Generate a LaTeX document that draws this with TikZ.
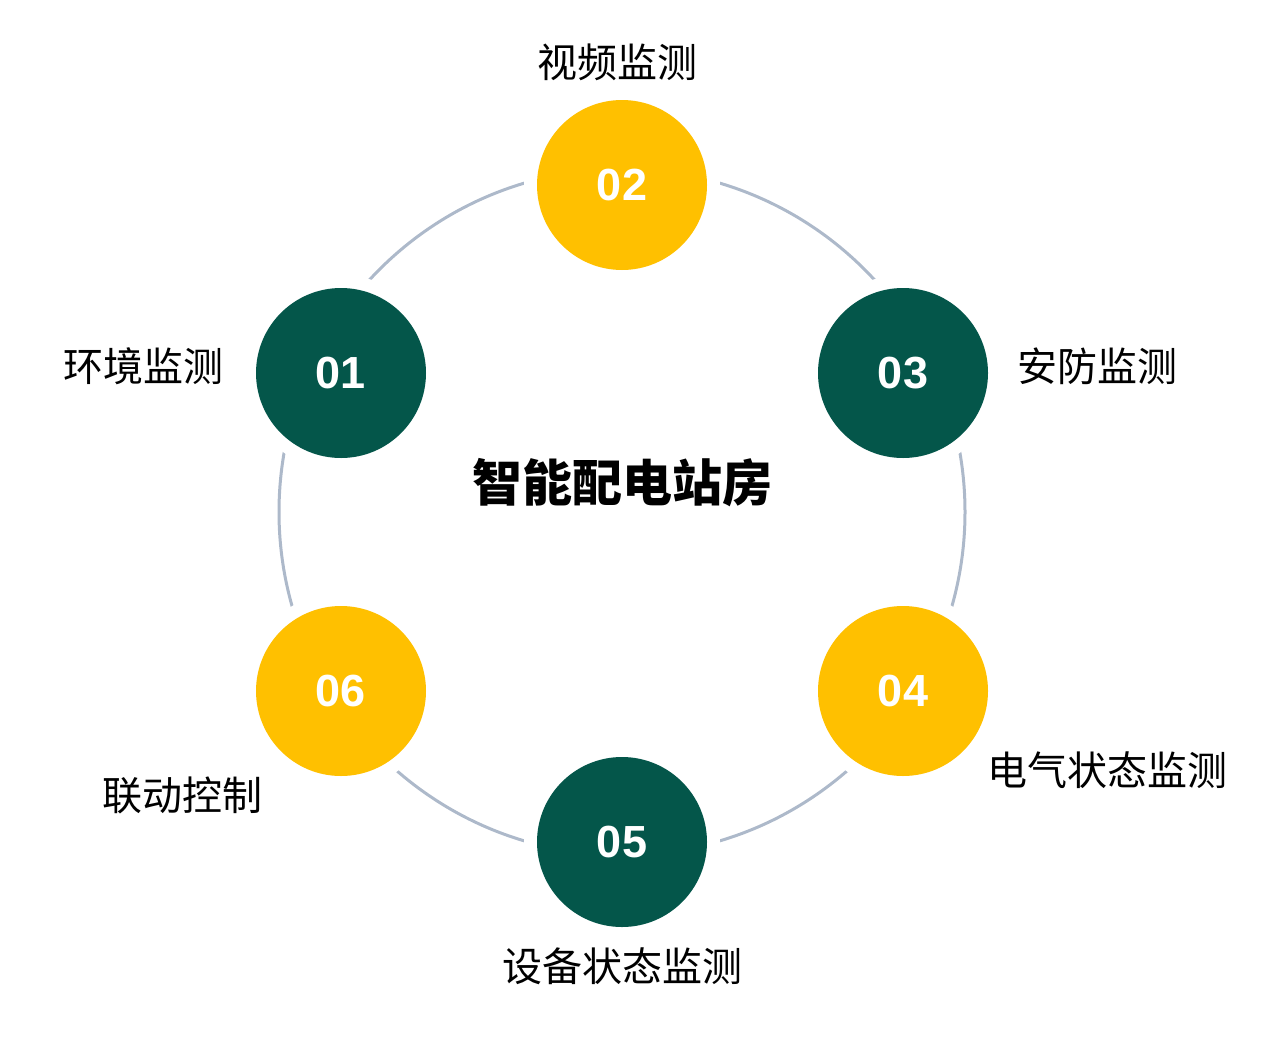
\documentclass[tikz,border=0pt]{standalone}
\usepackage{fontspec}
\setmainfont{Liberation Sans}
\newfontfamily\cjk{Noto Sans CJK SC}
\definecolor{dgreen}{HTML}{04564A}
\definecolor{yel}{HTML}{FFC000}
\definecolor{ring}{HTML}{ADB9CA}
\begin{document}
\begin{tikzpicture}[x=1pt,y=-1pt,
  gap/.style={circle,fill=white,minimum size=196pt,inner sep=0pt},
  dot/.style={circle,minimum size=170pt,inner sep=0pt,text=white,font=\fontsize{45}{50}\selectfont\bfseries},
  lab/.style={font=\cjk\fontsize{40}{44}\selectfont,inner sep=0pt}]
\useasboundingbox (0,0) rectangle (1263,1060);
\draw[ring,line width=3pt] (622,512) circle (343);
\foreach \x/\y in {622/185,341/373,903/373,341/691,903/691,622/842}
  \node[gap] at (\x,\y) {};
\node[dot,fill=yel] (n2) at (622,185) {02};
\node[dot,fill=dgreen] (n1) at (341,373) {01};
\node[dot,fill=dgreen] (n3) at (903,373) {03};
\node[dot,fill=yel] (n6) at (341,691) {06};
\node[dot,fill=yel] (n4) at (903,691) {04};
\node[dot,fill=dgreen] (n5) at (622,842) {05};
\node[lab] (l2) at (617,62) {视频监测};
\node[lab] (l1) at (143,366) {环境监测};
\node[lab] (l3) at (1097,366) {安防监测};
\node[lab] (l4) at (1107,770) {电气状态监测};
\node[lab] (l6) at (182,795) {联动控制};
\node[lab] (l5) at (622,966) {设备状态监测};
\node[font=\cjk\bfseries\fontsize{50}{54}\selectfont,inner sep=0pt] (c) at (622,483) {智能配电站房};
\end{tikzpicture}
\end{document}
